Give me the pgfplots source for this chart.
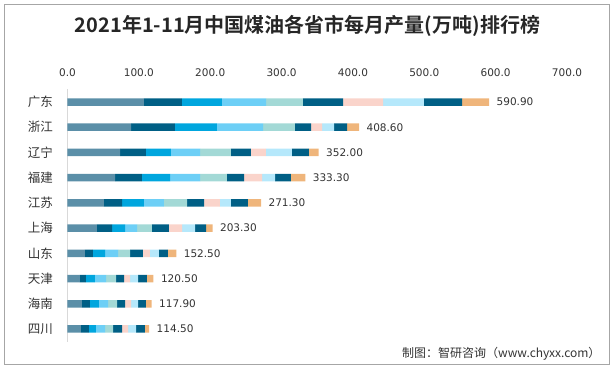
\documentclass[border=0pt]{standalone}
\usepackage{fontspec}
\usepackage{pgfplots}
\usepackage{pgfplotstable}
\pgfplotsset{compat=1.18}
\setmainfont{DejaVu Sans}
\newfontfamily\cjk{Noto Sans CJK SC}[BoldFont={Noto Sans CJK SC Bold}]
\definecolor{c1}{HTML}{5B8FA8}
\definecolor{c2}{HTML}{005F85}
\definecolor{c3}{HTML}{00A6DE}
\definecolor{c4}{HTML}{6DCFF6}
\definecolor{c5}{HTML}{A3D9D6}
\definecolor{c7}{HTML}{FAD4CB}
\definecolor{c8}{HTML}{B5E8FB}
\definecolor{c10}{HTML}{EFB57B}
\definecolor{txt}{HTML}{333333}
\pgfplotstableread{
y m1 m2 m3 m4 m5 m6 m7 m8 m9 m10 zero total
0 107.2 53.2 56.1 61.7 51.8 56.1 56.1 57.4 53.3 38.0 0 590.90
1 89.0 61.6 58.9 64.5 44.8 22.5 15.4 16.8 18.2 16.9 0 408.60
2 73.6 36.4 35.0 40.7 43.4 28.0 21.0 36.5 23.8 13.6 0 352.00
3 66.6 37.8 39.3 42.0 37.8 23.9 25.2 18.2 22.4 20.1 0 333.30
4 51.1 25.3 30.8 28.0 32.3 23.8 22.4 15.4 23.8 18.4 0 271.30
5 41.3 21.1 18.2 16.8 21.0 23.8 18.3 18.2 15.4 9.2 0 203.30
6 24.5 11.2 16.9 18.2 16.8 18.2 9.8 12.6 12.6 11.7 0 152.50
7 17.5 8.4 12.6 15.5 14.0 11.2 8.4 11.2 12.6 9.1 0 120.50
8 20.3 11.2 12.6 12.7 12.6 11.2 8.4 9.8 11.2 7.9 0 117.90
9 18.9 11.2 9.8 12.7 11.2 12.6 8.4 11.2 12.6 5.9 0 114.50
}\data
\begin{document}
\begin{tikzpicture}[x=1pt,y=1pt]
\path (0,0) rectangle (614,368);
\draw[color=black!35, line width=0.9pt] (4,4) rectangle (609,364);
\node[font=\cjk\bfseries\fontsize{20}{22}\selectfont, text=black!85] at (307.5,342) {2021年1-11月中国煤油各省市每月产量(万吨)排行榜};
\node[font=\cjk\fontsize{12}{14}\selectfont, text=txt, anchor=east] at (604,14) {制图：智研咨询（www.chyxx.com）};
\begin{axis}[
  at={(67.5pt,26.4pt)}, anchor=south west,
  scale only axis, width=499.5pt, height=252.2pt,
  xmin=0, xmax=700, ymin=-0.5, ymax=9.5, y dir=reverse,
  xbar stacked, bar width=7.5pt,
  stacked ignores zero=false,
  axis line style={draw=none},
  major tick length=0pt,
  xtick={0,100,...,700},
  xticklabel pos=top,
  xticklabel style={font=\fontsize{10.5}{12}\selectfont, text=txt, yshift=9pt},
  /pgf/number format/assume math mode=true,
  xticklabel={\pgfmathprintnumber[fixed,fixed zerofill,precision=1]{\tick}},
  ytick={0,...,9},
  yticklabels={广东,浙江,辽宁,福建,江苏,上海,山东,天津,海南,四川},
  yticklabel style={font=\cjk\fontsize{12.5}{14}\selectfont, text=txt, xshift=-11pt},
  clip=false,
]
\addplot[fill=c1, draw=none] table[x=m1,y=y]{\data};
\addplot[fill=c2, draw=none] table[x=m2,y=y]{\data};
\addplot[fill=c3, draw=none] table[x=m3,y=y]{\data};
\addplot[fill=c4, draw=none] table[x=m4,y=y]{\data};
\addplot[fill=c5, draw=none] table[x=m5,y=y]{\data};
\addplot[fill=c2, draw=none] table[x=m6,y=y]{\data};
\addplot[fill=c7, draw=none] table[x=m7,y=y]{\data};
\addplot[fill=c8, draw=none] table[x=m8,y=y]{\data};
\addplot[fill=c2, draw=none] table[x=m9,y=y]{\data};
\addplot[fill=c10, draw=none] table[x=m10,y=y]{\data};
\addplot[draw=none, fill=none, point meta=explicit,
  nodes near coords={\pgfmathprintnumber[fixed,fixed zerofill,precision=2]{\pgfplotspointmeta}},
  nodes near coords style={font=\fontsize{10.5}{12}\selectfont, text=txt, anchor=west, xshift=4pt}]
  table[x=zero,y=y,meta=total]{\data};
\draw[color=black!15, line width=1pt] (axis cs:0,-0.5) -- (axis cs:0,9.5);
\end{axis}
\end{tikzpicture}
\end{document}
